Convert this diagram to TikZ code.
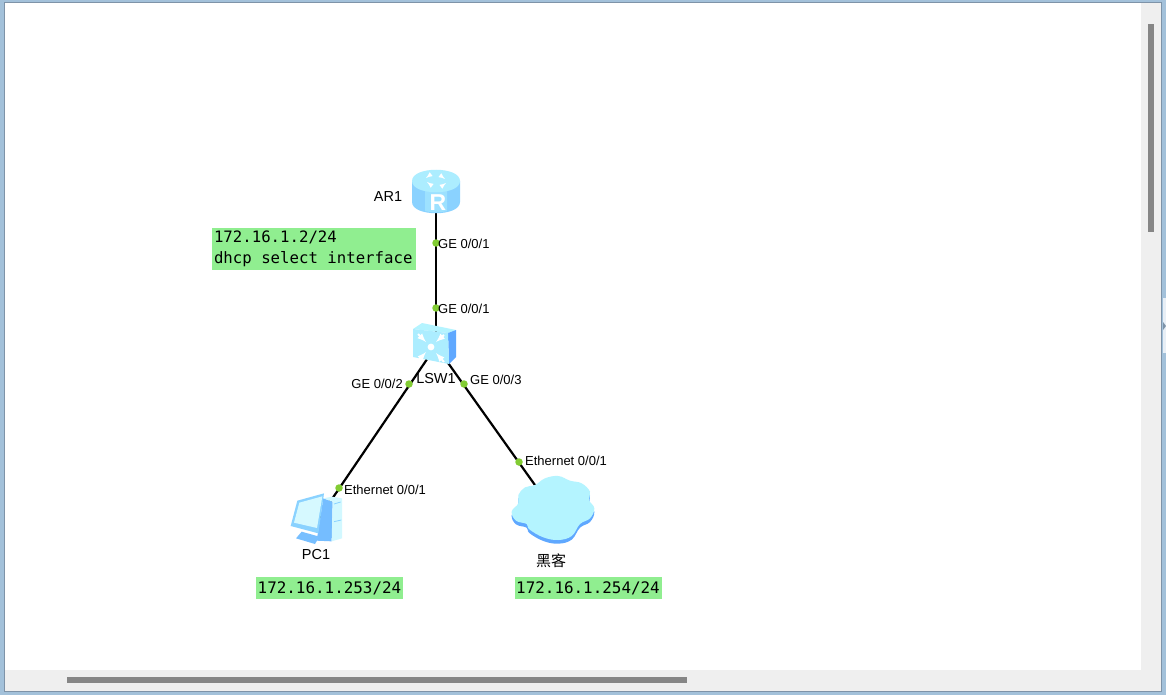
\documentclass[tikz,border=0pt]{standalone}
\usepackage{fontspec}
\setmainfont{Liberation Sans}
\newfontfamily\cjkfont{Noto Sans CJK SC}
\newfontfamily\consfont{DejaVu Sans Mono}
\usetikzlibrary{arrows,positioning}
\definecolor{framebg}{HTML}{A3C1DA}
\definecolor{frameline}{HTML}{7E93A8}
\definecolor{panelgray}{HTML}{EFEFEF}
\definecolor{barcolor}{HTML}{868686}
\definecolor{notegreen}{HTML}{90EE90}
\definecolor{portgreen}{HTML}{82CC33}
\definecolor{iconlight}{HTML}{B4F4FF}
\definecolor{iconmid}{HTML}{8AD2FF}
\definecolor{icondark}{HTML}{5FA8FF}
\newcommand{\cloudpts}{(135,105) (165,85) (205,78) (240,92) (275,100) (300,125) (297,150) (313,175) (300,205) (270,222) (245,258) (205,270) (160,262) (118,238) (110,222) (78,212) (65,185) (85,160) (85,135) (105,112)}
\begin{document}
\begin{tikzpicture}
[x=1pt,y=-1pt,
 device/.style={inner sep=0pt,minimum size=0pt},
 port/.style={circle,fill=portgreen,inner sep=0pt,minimum size=7.5pt},
 portlabel/.style={inner sep=0pt,font=\fontsize{13}{15}\selectfont},
 devlabel/.style={inner sep=0pt,font=\fontsize{14.5}{16}\selectfont},
 note/.style={fill=notegreen,inner sep=0pt,font=\consfont\fontsize{15.9}{21}\selectfont,align=left},
 link/.style={line width=2.2pt,black},
 sym/.style={white,line width=2pt,-latex}]
\useasboundingbox (0,0) rectangle (1166,695);

% window
\fill[framebg] (0,0) rectangle (1166,695);
\fill[frameline] (4,2) rectangle (1162,692);
\fill[panelgray] (5,3) rectangle (1161,691);
\fill[white] (5,3) rectangle (1141,670);
\fill[barcolor] (1148,24) rectangle (1154,232);
\fill[barcolor] (67,677) rectangle (687,683);
\fill[white!75!framebg] (1163,298) rectangle (1166,353);
\fill[frameline] (1163,322) -- (1166,326) -- (1163,330) -- cycle;

\node[device] (ar1) at (436,191) {};
\node[device] (lsw1) at (436,346) {};
\node[device] (pc1) at (315,524) {};
\node[device] (hacker) at (552,509) {};

\draw[link] (ar1) -- (lsw1);
\draw[link] (lsw1) -- (pc1);
\draw[link] (lsw1) -- (hacker);

% router
\fill[iconmid] (412,181) -- (412,202) .. controls (412,217) and (460,217) .. (460,202) -- (460,181) -- cycle;
\fill[iconmid!55!iconlight] (425,181) -- (425,211) .. controls (432,213) and (440,213) .. (447,211) -- (447,181) -- cycle;
\fill[iconlight!80!iconmid] (412,181) .. controls (412,166) and (460,166) .. (460,181) .. controls (460,196) and (412,196) .. (412,181) -- cycle;
\draw[sym,line width=1.2pt] (430,175) -- (426,178);
\draw[sym,line width=1.2pt] (441,176) -- (445,179);
\draw[sym,line width=1.2pt] (431,185) -- (427,182);
\draw[sym,line width=1.2pt] (442,186) -- (446,183);
\node[inner sep=0pt,white,font=\bfseries\fontsize{23}{24}\selectfont] (rlabel) at (438,203) {R};

% switch
\fill[iconlight] (413,329) -- (422,323) -- (456,330) -- (448,333) -- cycle;
\fill[icondark] (448,333) -- (456,330) -- (456,357) -- (449,364) -- cycle;
\fill[iconlight!80!iconmid] (413,329) -- (448,333) -- (449,364) -- (413,357) -- cycle;
\fill[white] (431,347) circle (3.4);
\draw[sym] (418,334) -- (426,342);
\draw[sym] (444,335) -- (436,342);
\draw[sym] (418,361) -- (426,352);
\draw[sym] (444,362) -- (436,353);

% computer
\begin{scope}[shift={(260,470)},scale=1/3]
\fill[icondark!50!iconmid] (190,85) -- (218,95) -- (215,214) -- (170,212) -- cycle;
\fill[iconlight!60!white] (218,95) -- (246,85) -- (246,205) -- (215,214) -- cycle;
\fill[iconlight!60!white] (190,85) -- (215,80) -- (246,85) -- (218,95) -- cycle;
\draw[iconmid,line width=0.8pt] (222,102) -- (242,96);
\draw[iconmid,line width=0.8pt] (222,155) -- (244,150);
\fill[icondark!45!iconmid] (125,185) -- (108,205) -- (165,222) -- (178,200) -- cycle;
\fill[iconmid] (112,92) -- (192,70) -- (175,190) -- (92,168) -- cycle;
\fill[iconlight!55!white] (118,98) -- (187,79) -- (171,174) -- (102,158) -- cycle;
\end{scope}

% cloud
\begin{scope}[shift={(490,450)},scale=1/3]
\begin{scope}[yshift=-11pt]
\fill[icondark] plot[smooth cycle,tension=0.65] coordinates {\cloudpts};
\end{scope}
\fill[iconlight] plot[smooth cycle,tension=0.65] coordinates {\cloudpts};
\end{scope}

\node[port] (p1) at (436,243) {};
\node[port] (p2) at (436,308) {};
\node[port] (p3) at (409,384) {};
\node[port] (p4) at (464,384) {};
\node[port] (p5) at (339,488) {};
\node[port] (p6) at (519,462) {};

\node[portlabel,anchor=west] (l1) at (438,244) {GE 0/0/1};
\node[portlabel,anchor=west] (l2) at (438,309) {GE 0/0/1};
\node[portlabel,anchor=east] (l3) at (403,384) {GE 0/0/2};
\node[portlabel,anchor=west] (l4) at (470,380) {GE 0/0/3};
\node[portlabel,anchor=west] (l5) at (344,490) {Ethernet 0/0/1};
\node[portlabel,anchor=west] (l6) at (525,461) {Ethernet 0/0/1};

\node[devlabel] (name1) at (388,197) {AR1};
\node[devlabel] (name2) at (436,378.5) {LSW1};
\node[devlabel] (name3) at (316,555) {PC1};
\node[devlabel,font=\cjkfont\fontsize{15}{16}\selectfont] (name4) at (551,561) {黑客};

\node[note,font=\consfont\fontsize{15.7}{21}\selectfont,minimum width=204pt,minimum height=42pt,text width=199pt] (n1) at (313.5,249) {172.16.1.2/24\\dhcp\phantom{x}select\phantom{x}interface};
\node[note,minimum width=147pt,minimum height=22pt] (n2) at (329.5,588) {172.16.1.253/24};
\node[note,minimum width=147pt,minimum height=22pt] (n3) at (588,588) {172.16.1.254/24};
\end{tikzpicture}
\end{document}
